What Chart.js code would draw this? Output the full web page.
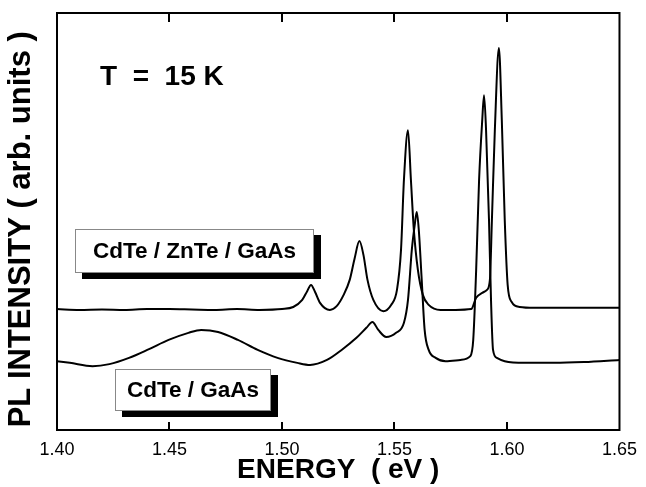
<!DOCTYPE html>
<html>
<head>
<meta charset="utf-8">
<script src="https://cdn.jsdelivr.net/npm/chart.js@4.4.1/dist/chart.umd.min.js"></script>
<style>
  html, body { margin: 0; padding: 0; background: #fff; }
  #wrap { width: 646px; height: 487px; }
</style>
</head>
<body>
<div id="wrap"><canvas id="c" width="646" height="487"></canvas></div>
<script>
// ---- data ----
const xTickValues = [1.40, 1.45, 1.50, 1.55, 1.60, 1.65];
const xTitle = 'ENERGY  ( eV )';
const yTitle = 'PL INTENSITY ( arb. units )\u2002';
const tempLabel = 'T  =  15 K';
const upperLabel = 'CdTe / ZnTe / GaAs';
const lowerLabel = 'CdTe / GaAs';

// CdTe / ZnTe / GaAs (upper trace)
const upperEnergy = [1.400,1.410,1.420,1.430,1.440,1.450,1.460,1.470,1.480,1.490,1.500,1.505,
  1.5090,1.5112,1.5129,1.5147,1.5169,1.5213,1.5243,1.5274,1.5301,1.5323,1.5344,1.5362,1.5380,
  1.5406,1.5450,1.5485,1.5511,1.5529,1.5542,1.5560,1.5573,1.5586,1.5604,1.5626,1.5652,1.5705,
  1.5771,1.5841,1.5863,1.5890,1.5911,1.5924,1.5933,1.5946,1.5964,1.5977,1.5990,1.6003,1.6021,
  1.6056,1.6122,1.6254,1.6386,1.650];
const upperIntensity = [29.0,28.8,28.9,28.8,29.0,29.0,28.9,28.8,29.0,28.8,29.0,29.5,
  31.2,33.3,34.8,33.1,30.5,28.8,29.7,32.4,36.0,41.2,45.3,42.0,36.0,
  31.2,28.5,30.0,33.6,43.2,60.0,71.9,60.0,48.0,38.4,32.4,30.0,28.8,
  28.8,29.0,31.7,32.9,33.6,36.0,50.4,71.9,91.6,74.3,50.4,34.8,30.7,
  29.5,29.3,29.3,29.3,29.3];

// CdTe / GaAs (lower trace)
const lowerEnergy = [1.400,1.4057,1.4158,1.4233,1.4320,1.4409,1.4496,1.4584,1.4641,1.4716,1.4804,
  1.4892,1.4980,1.5068,1.5125,1.5200,1.5265,1.5331,1.5375,1.5402,1.5428,1.5463,1.5507,1.5542,
  1.5560,1.5577,1.5590,1.5599,1.5608,1.5621,1.5634,1.5652,1.5683,1.5727,1.5793,1.5837,1.5850,
  1.5863,1.5876,1.5890,1.5898,1.5907,1.5920,1.5929,1.5938,1.5955,1.5990,1.6078,1.6210,1.6342,1.650];
const lowerIntensity = [16.5,16.1,15.3,15.8,17.3,19.4,21.6,23.3,24.0,23.5,21.6,
  19.2,17.3,16.1,15.6,16.8,19.2,22.1,24.5,25.9,24.0,22.3,23.3,25.7,
  31.2,43.2,49.2,52.3,48.0,36.0,24.0,19.2,17.3,16.5,16.8,17.7,21.6,
  38.4,60.0,74.3,80.3,71.9,50.4,31.2,19.2,17.3,16.5,16.1,16.1,16.3,16.8];

const toPoints = (xs, ys) => xs.map((x, i) => ({ x: x, y: ys[i] }));

const FONT = '"Liberation Sans", Arial, Helvetica, sans-serif';

// frame, inward ticks and annotation boxes
const decor = {
  id: 'decor',
  afterDatasetsDraw(chart) {
    const { ctx, chartArea: a, scales } = chart;
    const xs = scales.x;
    ctx.save();
    ctx.strokeStyle = '#000';
    ctx.lineWidth = 2;
    ctx.strokeRect(a.left, a.top, a.right - a.left, a.bottom - a.top);
    ctx.beginPath();
    xTickValues.forEach(v => {
      const px = Math.round(xs.getPixelForValue(v));
      if (px <= a.left + 2 || px >= a.right - 2) return;
      ctx.moveTo(px, a.bottom); ctx.lineTo(px, a.bottom - 8);
      ctx.moveTo(px, a.top); ctx.lineTo(px, a.top + 9);
    });
    ctx.stroke();

    // temperature label
    ctx.fillStyle = '#000';
    ctx.font = 'bold 28px ' + FONT;
    ctx.textBaseline = 'alphabetic';
    ctx.textAlign = 'left';
    ctx.fillText(tempLabel, 100, 85);

    // shadowed label boxes
    const box = (x, y, w, h, text, cy) => {
      ctx.fillStyle = '#000';
      ctx.fillRect(x + 7, y + 6, w, h);
      ctx.fillStyle = '#fff';
      ctx.fillRect(x, y, w, h);
      ctx.strokeStyle = '#888';
      ctx.lineWidth = 1;
      ctx.strokeRect(x + 0.5, y + 0.5, w - 1, h - 1);
      ctx.fillStyle = '#000';
      ctx.font = 'bold 22.5px ' + FONT;
      ctx.textAlign = 'center';
      ctx.textBaseline = 'middle';
      ctx.fillText(text, x + w / 2, cy);
    };
    box(75, 229, 239, 44, upperLabel, 252);
    box(115, 369, 156, 42, lowerLabel, 391);
    ctx.restore();
  }
};

new Chart(document.getElementById('c'), {
  type: 'scatter',
  data: {
    datasets: [
      { label: upperLabel, data: toPoints(upperEnergy, upperIntensity) },
      { label: lowerLabel, data: toPoints(lowerEnergy, lowerIntensity) }
    ].map(d => Object.assign(d, {
      showLine: true,
      borderColor: '#000',
      borderWidth: 2,
      pointRadius: 0,
      fill: false,
      cubicInterpolationMode: 'monotone'
    }))
  },
  options: {
    responsive: false,
    animation: false,
    devicePixelRatio: 1,
    layout: { padding: { top: 13, right: 20, left: 0, bottom: 0 } },
    plugins: { legend: { display: false }, tooltip: { enabled: false } },
    scales: {
      x: {
        type: 'linear',
        min: 1.40, max: 1.65,
        afterBuildTicks: s => { s.ticks = xTickValues.map(v => ({ value: v })); },
        afterFit: s => { s.height = 57; },
        grid: { display: false, drawTicks: false },
        border: { display: false },
        ticks: {
          color: '#000',
          padding: 9,
          font: { family: FONT, size: 18 },
          callback: v => Number(v).toFixed(2)
        },
        title: {
          display: true, text: xTitle, color: '#000',
          font: { family: FONT, size: 28, weight: 'bold' },
          padding: { top: 0, bottom: 0 }
        }
      },
      y: {
        min: 0, max: 100,
        afterFit: s => { s.width = 57; },
        grid: { display: false, drawTicks: false },
        border: { display: false },
        ticks: { display: false },
        title: {
          display: true, text: yTitle, color: '#000',
          font: { family: FONT, size: 31, weight: 'bold' },
          padding: { top: 3, bottom: 0 }
        }
      }
    }
  },
  plugins: [decor]
});
</script>
</body>
</html>
